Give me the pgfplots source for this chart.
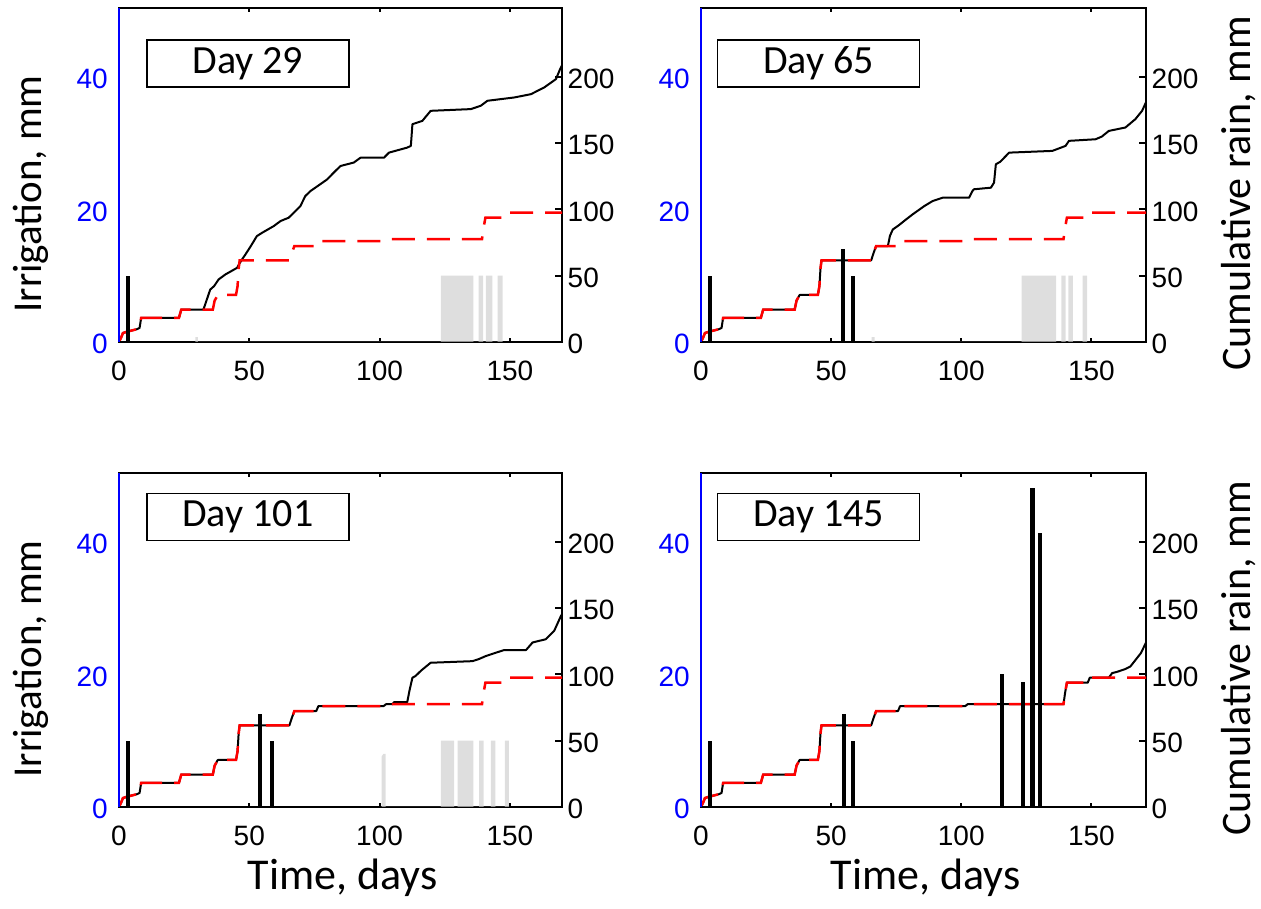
\documentclass[border=0pt]{standalone}
\usepackage{pgfplots}
\pgfplotsset{compat=1.18}
\usepackage{pgfplotstable}
\usepackage{fontspec}
\setmainfont{Carlito}
\newfontfamily\tickfont{Liberation Sans}
\definecolor{graybar}{RGB}{222,222,222}

% common (simulated) cumulative rain, red dashed
\pgfplotstableread{
x y
0 0
0.8 3
1.5 6.5
3 7.5
5 8.5
7 9.5
7.9 10.4
8.5 18
23 18
23.9 24.3
36 24.3
36.7 31
37.9 35.3
44.9 35.3
45.5 42
45.9 55
46.3 61.5
65.4 61.5
66.3 67
67.3 72.3
75.7 72.3
76.5 76
101.5 76
102.5 77.5
139.3 77.5
139.9 86
140.6 93.7
148.6 93.7
149.4 97.5
171 97.5
}\redtab

\pgfplotstableread{
x y
0 0
0.8 3
1.5 6.5
3 7.5
5 8.5
7 9.5
7.9 10.4
8.5 18
23 18
23.9 24.3
32.4 24.3
33.7 31.8
35 39.4
36.5 42
38.2 47
40.8 50.8
45.3 55.8
46.2 59
47.2 62.1
48.5 65.9
50.5 72
52.9 79.8
54.9 82.3
59.4 87.4
62 91.2
65.1 93.7
67.1 97.5
69.6 102.5
71.5 110.1
73.5 113.9
76.5 118
79.9 122.7
82.4 127.8
85 132.8
90.1 135.4
92.7 139.1
101.7 139.1
103.6 142.9
110.6 146.7
112 148
112.6 164.4
116.4 166.9
119.6 174.5
135 175.8
138.8 178.3
141.4 182.1
151.7 184.6
158.1 187.1
163.2 192.2
167.7 198.5
169 204.8
170.2 209.8
}\blackA

\pgfplotstableread{
x y
0 0
0.8 3
1.5 6.5
3 7.5
5 8.5
7 9.5
7.9 10.4
8.5 18
23 18
23.9 24.3
36 24.3
36.7 31
37.9 35.3
44.9 35.3
45.5 42
45.9 55
46.3 61.5
65.4 61.5
66.3 67
67.3 72.3
71.8 72.3
72.2 76
72.6 80
73.7 84.8
76 88
78.8 92.4
81.3 96.2
85.8 102.5
89 106.3
92.8 108.8
103 108.8
104.3 113.9
104.9 115.2
111.4 116.4
112.6 120.2
113.3 134.1
115 136
118.4 142.9
135 144.2
140.1 148
141.4 151.8
151.6 153
154 155
156.7 159.3
163.1 161.9
166.9 168.2
169.5 174.5
171 181
}\blackB

\pgfplotstableread{
x y
0 0
0.8 3
1.5 6.5
3 7.5
5 8.5
7 9.5
7.9 10.4
8.5 18
23 18
23.9 24.3
36 24.3
36.7 31
37.9 35.3
44.9 35.3
45.5 42
45.9 55
46.3 61.5
65.4 61.5
66.3 67
67.3 72.3
75.7 72.3
76.5 76
101.5 76
102.5 77.5
105 77.5
105.5 79
110.6 79
111.5 88
112.6 97.5
113.8 98.8
116 103
119.6 108.8
135.6 110
138 111.5
140.8 113.9
144 116
147.8 118.4
156.2 118.4
158.7 124.1
163.8 126.6
167 132.9
169.6 144.2
170.5 147
}\blackC

\pgfplotstableread{
x y
0 0
0.8 3
1.5 6.5
3 7.5
5 8.5
7 9.5
7.9 10.4
8.5 18
23 18
23.9 24.3
36 24.3
36.7 31
37.9 35.3
44.9 35.3
45.5 42
45.9 55
46.3 61.5
65.4 61.5
66.3 67
67.3 72.3
75.7 72.3
76.5 76
101.5 76
102.5 77.5
139.3 77.5
139.9 86
140.6 93.7
148.6 93.7
149.4 97.5
156.7 97.5
158 101
160 102
163 104
165 106
167 111
169 116
171 124
}\blackD

\newcommand\tickfs{\tickfont\fontsize{28}{28}\selectfont}

\tikzset{
  daybox/.style={draw, line width=1.6pt, fill=white, minimum width=202pt,
    minimum height=47pt, anchor=north west, inner sep=0pt,
    font=\fontsize{40}{40}\selectfont},
  redline/.style={red, line width=2.5pt, dash pattern=on 23pt off 12pt},
  blackline/.style={black, line width=2pt, line join=round},
}

\pgfplotsset{
  base/.style={scale only axis, height=333.4pt, xmin=0, ymin=0,
    anchor=south west, no markers, clip=true,
    /pgf/number format/assume math mode=true,
    tick label style={font=\tickfs}},
  rainax/.style={base, ymax=252,
    axis line style={line width=2pt, black},
    xtick={0,50,100,150}, xtick style={draw=none},
    ytick={0,50,100,150,200}, ytick pos=right, yticklabel pos=right,
    tick align=inside, major tick length=7pt,
    ytick style={line width=2pt, black},
    xticklabel style={anchor=north, inner sep=0pt, yshift=-19pt},
    yticklabel style={anchor=west, inner sep=0pt, xshift=5.5pt, yshift=-2pt}},
  irrax/.style={base, ymax=50.4,
    axis x line=box, axis y line*=left,
    x axis line style={line width=2pt, black, -},
    y axis line style={line width=2.2pt, blue, -},
    xtick={0,50,100,150}, xticklabels={},
    tick align=inside, major tick length=4pt,
    xtick style={line width=2pt, black},
    ytick={0,20,40}, ytick style={draw=none},
    yticklabel style={anchor=east, inner sep=0pt, xshift=-11pt, yshift=-2pt, text=blue}},
  irrbar/.style={ycomb, black, line width=4pt},
}

\begin{document}
\begin{tikzpicture}[x=1pt,y=1pt]
\useasboundingbox (0,0) rectangle (1261,909);

% ---------- top left: Day 29
\begin{axis}[rainax, at={(119pt,567.3pt)}, width=443pt, xmax=170]
  \addplot[blackline] table {\blackA};
  \addplot[redline] table {\redtab};
\end{axis}
\begin{axis}[irrax, at={(119pt,567.3pt)}, width=443pt, xmax=170]
  \addplot[fill=graybar, draw=none] coordinates {(29.3,0)(29.3,0.7)(30.3,0.7)(30.3,0)(123.5,0)(123.5,10)(136,10)(136,0)(138,0)(138,10)(139.7,10)(139.7,0)(140.8,0)(140.8,10)(143.3,10)(143.3,0)(145.3,0)(145.3,10)(147.2,10)(147.2,0)};
  \addplot[irrbar] coordinates {(3.4,10)};
  \node[daybox] at (rel axis cs:0.061,0.908) {Day 29};
\end{axis}

% ---------- top right: Day 65
\begin{axis}[rainax, at={(701pt,567.3pt)}, width=445pt, xmax=171]
  \addplot[blackline] table {\blackB};
  \addplot[redline] table {\redtab};
\end{axis}
\begin{axis}[irrax, at={(701pt,567.3pt)}, width=445pt, xmax=171]
  \addplot[fill=graybar, draw=none] coordinates {(65.6,0)(65.6,0.7)(66.7,0.7)(66.7,0)(123.2,0)(123.2,10)(136.5,10)(136.5,0)(138.5,0)(138.5,10)(140.1,10)(140.1,0)(141.2,0)(141.2,10)(142.9,10)(142.9,0)(146.6,0)(146.6,10)(148.4,10)(148.4,0)};
  \addplot[irrbar] coordinates {(3.3,10)(54.6,14)(58.5,10)};
  \node[daybox] at (rel axis cs:0.0353,0.908) {Day 65};
\end{axis}

% ---------- bottom left: Day 101
\begin{axis}[rainax, at={(119pt,102.3pt)}, width=443pt, xmax=170]
  \addplot[blackline] table {\blackC};
  \addplot[redline] table {\redtab};
\end{axis}
\begin{axis}[irrax, at={(119pt,102.3pt)}, width=443pt, xmax=170]
  \addplot[fill=graybar, draw=none] coordinates {(100.8,0)(100.8,7.6)(101.5,8)(102.3,8)(102.3,0)(123.5,0)(123.5,10)(128.6,10)(128.6,0)(129.9,0)(129.9,10)(136,10)(136,0)(138.2,0)(138.2,10)(139.9,10)(139.9,0)(142.7,0)(142.7,10)(144.4,10)(144.4,0)(148.1,0)(148.1,10)(149.6,10)(149.6,0)};
  \addplot[irrbar] coordinates {(3.3,10)(54.2,14)(58.7,10)};
  \node[daybox] at (rel axis cs:0.061,0.942) {Day 101};
\end{axis}

% ---------- bottom right: Day 145
\begin{axis}[rainax, at={(701pt,102.3pt)}, width=445pt, xmax=171]
  \addplot[blackline] table {\blackD};
  \addplot[redline] table {\redtab};
\end{axis}
\begin{axis}[irrax, at={(701pt,102.3pt)}, width=445pt, xmax=171]
  \addplot[irrbar] coordinates {(3.3,10)(54.8,14)(58.5,10)(115.6,20)(123.9,18.9)};
  \addplot[ycomb, black, line width=4.5pt] coordinates {(127.3,48.2)(130.3,41.4)};
  \node[daybox] at (rel axis cs:0.0353,0.942) {Day 145};
\end{axis}

% ---------- axis titles
\node[rotate=90, anchor=base, font=\fontsize{41}{41}\selectfont] at (41.7,715) {Irrigation, mm};
\node[rotate=90, anchor=base, font=\fontsize{41}{41}\selectfont] at (41.7,250) {Irrigation, mm};
\node[rotate=90, anchor=base, font=\fontsize{42}{42}\selectfont] at (1250,715.5) {Cumulative rain, mm};
\node[rotate=90, anchor=base, font=\fontsize{42}{42}\selectfont] at (1250,250.5) {Cumulative rain, mm};
\node[anchor=base, font=\fontsize{44}{44}\selectfont] at (342.5,19) {Time, days};
\node[anchor=base, font=\fontsize{44}{44}\selectfont] at (925.5,19) {Time, days};
\end{tikzpicture}
\end{document}
